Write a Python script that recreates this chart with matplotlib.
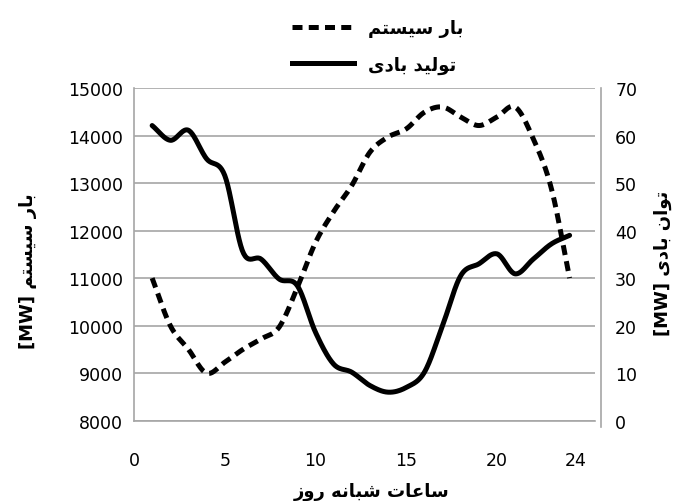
import numpy as np
import matplotlib
matplotlib.use("Agg")
import matplotlib.pyplot as plt
from matplotlib.lines import Line2D
from matplotlib.transforms import ScaledTranslation

# ---- data ---------------------------------------------------------------
hours = [1, 2, 3, 4, 5, 6, 7, 8, 9, 10, 11, 12,
         13, 14, 15, 16, 17, 18, 19, 20, 21, 22, 23, 24]
system_load_mw = [11000, 10000, 9500, 9000, 9230, 9500, 9720, 9970,
                  10800, 11750, 12400, 12950, 13650, 13970, 14140, 14490,
                  14600, 14390, 14210, 14390, 14600, 13930, 12880, 11000]
wind_power_mw = [62.1, 59.0, 61.1, 55.1, 51.6, 35.5, 34.0, 29.8,
                 28.4, 18.6, 11.9, 10.2, 7.4, 6.0, 7.0, 10.2,
                 20.0, 30.5, 33.0, 35.1, 30.9, 34.0, 37.2, 39.0]

x_ticks = [0, 5, 10, 15, 20, 24]
left_ticks = [8000, 9000, 10000, 11000, 12000, 13000, 14000, 15000]
right_ticks = [0, 10, 20, 30, 40, 50, 60, 70]

label_load = "بار سیستم"
label_wind = "تولید بادی"
label_wind_axis = "توان بادی"
label_hours = "ساعات شبانه روز"
unit = "[MW]"

# ---- minimal Persian shaping (presentation forms, visual order) ----------
FORMS = {
    'ا': ('\uFE8D', '\uFE8E', None, None),
    'ب': ('\uFE8F', '\uFE90', '\uFE91', '\uFE92'),
    'ت': ('\uFE95', '\uFE96', '\uFE97', '\uFE98'),
    'د': ('\uFEA9', '\uFEAA', None, None),
    'ر': ('\uFEAD', '\uFEAE', None, None),
    'ز': ('\uFEAF', '\uFEB0', None, None),
    'س': ('\uFEB1', '\uFEB2', '\uFEB3', '\uFEB4'),
    'ش': ('\uFEB5', '\uFEB6', '\uFEB7', '\uFEB8'),
    'ع': ('\uFEC9', '\uFECA', '\uFECB', '\uFECC'),
    'ل': ('\uFEDD', '\uFEDE', '\uFEDF', '\uFEE0'),
    'م': ('\uFEE1', '\uFEE2', '\uFEE3', '\uFEE4'),
    'ن': ('\uFEE5', '\uFEE6', '\uFEE7', '\uFEE8'),
    'ه': ('\uFEE9', '\uFEEA', '\uFEEB', '\uFEEC'),
    'و': ('\uFEED', '\uFEEE', None, None),
    'ی': ('\u06CC', '\uFEF0', '\uFEF3', '\uFEF4'),
}


def shape(text):
    out = []
    for i, ch in enumerate(text):
        if ch not in FORMS:
            out.append(ch)
            continue
        prev = text[i - 1] if i > 0 else None
        nxt = text[i + 1] if i + 1 < len(text) else None
        joins_prev = prev in FORMS and FORMS[prev][2] is not None
        joins_next = FORMS[ch][2] is not None and nxt in FORMS
        iso, fin, ini, med = FORMS[ch]
        if joins_prev and joins_next:
            out.append(med)
        elif joins_prev:
            out.append(fin)
        elif joins_next:
            out.append(ini)
        else:
            out.append(iso)
    return "".join(reversed(out))


def smooth(x, y, n=24):
    """Catmull-Rom curve through the given points."""
    x = np.asarray(x, float)
    y = np.asarray(y, float)
    px = np.concatenate([[2 * x[0] - x[1]], x, [2 * x[-1] - x[-2]]])
    py = np.concatenate([[2 * y[0] - y[1]], y, [2 * y[-1] - y[-2]]])
    t = np.linspace(0, 1, n, endpoint=False)
    xs, ys = [], []
    for i in range(1, len(px) - 2):
        for arr, out in ((px, xs), (py, ys)):
            p0, p1, p2, p3 = arr[i - 1], arr[i], arr[i + 1], arr[i + 2]
            out.extend(0.5 * (2 * p1 + (-p0 + p2) * t
                              + (2 * p0 - 5 * p1 + 4 * p2 - p3) * t ** 2
                              + (-p0 + 3 * p1 - 3 * p2 + p3) * t ** 3))
    xs.append(x[-1])
    ys.append(y[-1])
    return np.array(xs), np.array(ys)


# ---- figure -------------------------------------------------------------
W, H = 678, 502
fig = plt.figure(figsize=(W / 100, H / 100), dpi=100)
ax = fig.add_axes([134 / W, 1 - 421.7 / H, (595 - 134) / W, (421.7 - 89) / H])
ax2 = ax.twinx()

text_color = "#000000"
grid_color = "#a6a6a6"
num_size = 12.5
fa_font = dict(family="DejaVu Sans", size=13, weight="bold", color=text_color)

ax.set_xlim(0, 25.4)
ax.set_ylim(8000, 15000)
ax2.set_ylim(0, 70)

lw = 3.6
dash = (0, (2.0, 1.25))

xs, ys = smooth(hours, system_load_mw)
ax.plot(xs, ys, color="black", lw=lw, linestyle=dash, zorder=3)
xw, yw = smooth(hours, wind_power_mw)
ax2.plot(xw, yw, color="black", lw=lw, solid_capstyle="round", zorder=3)

ax.set_yticks(left_ticks)
ax.yaxis.grid(True, color=grid_color, lw=1.2)
ax.set_axisbelow(True)
ax.set_xticks(x_ticks)
ax2.set_yticks(right_ticks)

ax.tick_params(axis="x", length=0, pad=22, labelsize=num_size,
               labelcolor=text_color)
ax.tick_params(axis="y", length=0, pad=8, labelsize=num_size,
               labelcolor=text_color)
ax2.tick_params(axis="y", length=0, pad=10, labelsize=num_size,
                labelcolor=text_color)

# the final hour label sits a little to the right of its tick
last = ax.get_xticklabels()[-1]
last.set_transform(last.get_transform()
                   + ScaledTranslation(6 / 100, 0, fig.dpi_scale_trans))

for a in (ax, ax2):
    for s in a.spines.values():
        s.set_visible(False)
for name in ("left", "bottom"):
    ax.spines[name].set_visible(True)
    ax.spines[name].set_color(grid_color)
    ax.spines[name].set_linewidth(1.2)
ax2.spines["right"].set_visible(True)
ax2.spines["right"].set_color(grid_color)
ax2.spines["right"].set_linewidth(1.2)
ax2.spines["right"].set_position(("outward", 4.5))
ax2.spines["right"].set_bounds(-1.3, 70)

# axis titles
fig.text(28 / W, 1 - 271 / H, unit + " " + shape(label_load), rotation=90,
         ha="center", va="center", **fa_font)
fig.text(663 / W, 1 - 263 / H, unit + " " + shape(label_wind_axis), rotation=90,
         ha="center", va="center", **fa_font)
fig.text(372 / W, 1 - 492 / H, shape(label_hours), ha="center", va="center",
         **fa_font)

# legend
handles = [Line2D([], [], color="black", lw=lw, linestyle=dash),
           Line2D([], [], color="black", lw=lw)]
leg = fig.legend(handles, [shape(label_load), shape(label_wind)],
                 loc="upper center", bbox_to_anchor=(378 / W, 1 - 4 / H),
                 frameon=False, handlelength=3.4, handletextpad=0.8,
                 labelspacing=1.0, prop=dict(family="DejaVu Sans",
                                            size=13, weight="bold"))
for t in leg.get_texts():
    t.set_color(text_color)

fig.savefig("out.png", dpi=100)
